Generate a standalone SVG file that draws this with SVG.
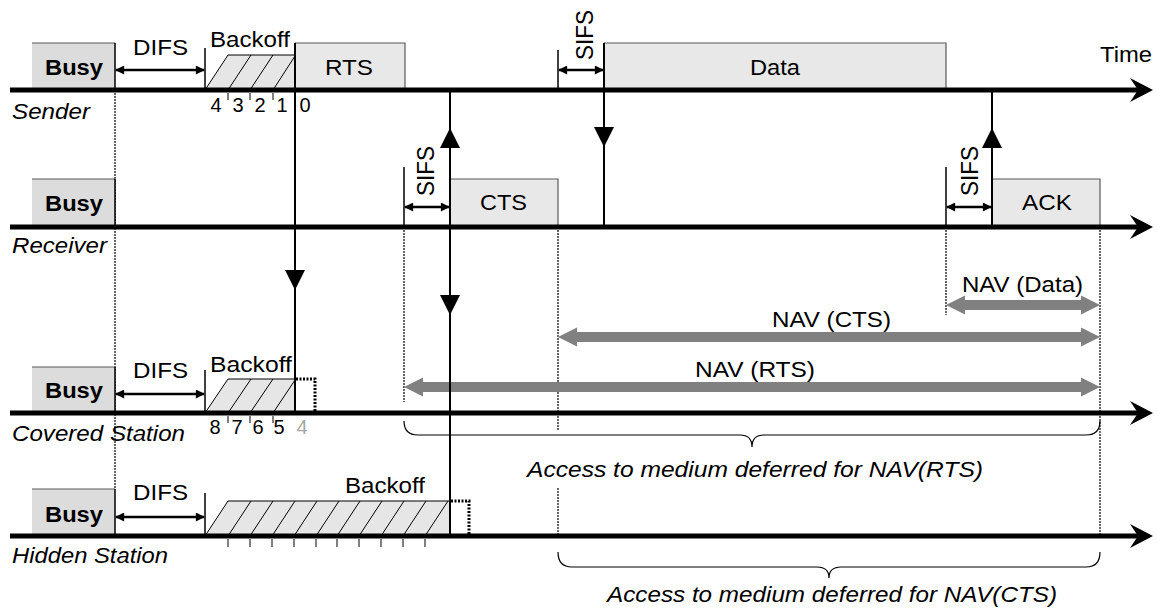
<svg xmlns="http://www.w3.org/2000/svg" width="1157" height="609" viewBox="0 0 1157 609">
<style>
text{font-family:"Liberation Sans",Arial,sans-serif;font-size:22px;fill:#000}
.b{font-weight:bold}
.i{font-style:italic}
.num{font-size:20px;text-anchor:middle}
.sifs{font-size:24px;text-anchor:middle}
.tl{stroke:#000;stroke-width:5;fill:none}
.busy{fill:#dcdcdc;stroke:none}
.box{fill:#e8e8e8;stroke:none}
.edge{stroke:#595959;stroke-width:1.2;fill:none}
.blk{stroke:#000;stroke-width:1.5;fill:none}
.sig{stroke:#000;stroke-width:2;fill:none}
.dot{stroke:#000;stroke-width:1.2;stroke-dasharray:2 1;fill:none}
.tdot{stroke:#000;stroke-width:3;stroke-dasharray:2 1.5;fill:none}
.dbl{stroke:#000;stroke-width:2.5;fill:none;marker-start:url(#ah);marker-end:url(#ah)}
.bo{fill:#e6e6e6;stroke:#000;stroke-width:1}
.hatch{stroke:#000;stroke-width:1;fill:none}
.nav{fill:#808080}
.brace{stroke:#000;stroke-width:1.2;fill:none}
</style>
<defs>
<marker id="ah" viewBox="0 0 10 10" refX="9" refY="5" markerWidth="10" markerHeight="9" markerUnits="userSpaceOnUse" orient="auto-start-reverse"><path d="M0,0 L10,5 L0,10 Z" fill="#000"/></marker>
<path id="tdown" d="M-10,0 L10,0 L0,20 Z" fill="#000"/>
<path id="tup" d="M-10,0 L10,0 L0,-20 Z" fill="#000"/>
<path id="thead" d="M0,0 L-23,-12 L-15,0 L-23,12 Z" fill="#000"/>
</defs>

<!-- dotted guide lines -->
<g id="guides">
<line class="dot" x1="115" y1="90" x2="115" y2="489"/>
<line class="dot" x1="404" y1="227" x2="404" y2="402"/>
<line class="dot" x1="558" y1="227" x2="558" y2="430"/>
<line class="dot" x1="558" y1="488" x2="558" y2="536"/>
<line class="dot" x1="946" y1="227" x2="946" y2="315"/>
<line class="dot" x1="1100" y1="227" x2="1100" y2="536"/>
</g>

<!-- Sender -->
<g id="sender">
<rect class="busy" x="32" y="43" width="83" height="47"/>
<line class="edge" x1="32" y1="43" x2="115" y2="43"/>
<line class="blk" x1="115" y1="43" x2="115" y2="90"/>
<text class="b" x="45" y="75" textLength="58" lengthAdjust="spacingAndGlyphs">Busy</text>
<text x="133" y="55" textLength="55" lengthAdjust="spacingAndGlyphs">DIFS</text>
<line class="blk" x1="205" y1="48" x2="205" y2="90"/>
<polygon class="bo" points="205,90 228,55 295,55 295,90"/>
<path class="hatch" d="M228,90 L251,55 M250,90 L273,55 M273,90 L295,56"/>
<path class="hatch" d="M228,93 V100 M250,93 V100 M273,93 V100"/>
<text x="210" y="47" textLength="80" lengthAdjust="spacingAndGlyphs">Backoff</text>
<text class="num" x="216" y="112">4</text>
<text class="num" x="238" y="112">3</text>
<text class="num" x="260" y="112">2</text>
<text class="num" x="282" y="112">1</text>
<text class="num" x="305" y="112">0</text>
<rect class="box" x="295" y="43" width="110" height="47"/>
<path class="edge" d="M295,43 H405 V90"/>
<text x="325" y="75" textLength="48" lengthAdjust="spacingAndGlyphs">RTS</text>
<line class="blk" x1="558" y1="50" x2="558" y2="90"/>
<text class="sifs" transform="translate(593,35) rotate(-90)" textLength="50" lengthAdjust="spacingAndGlyphs">SIFS</text>
<rect class="box" x="604" y="43" width="342" height="47"/>
<path class="edge" d="M604,43 H946 V90"/>
<text x="750" y="75" textLength="50" lengthAdjust="spacingAndGlyphs">Data</text>
<text x="1100" y="62" textLength="52" lengthAdjust="spacingAndGlyphs">Time</text>
<text class="i" x="12" y="119" textLength="78" lengthAdjust="spacingAndGlyphs">Sender</text>
</g>

<!-- Receiver -->
<g id="receiver">
<rect class="busy" x="32" y="179" width="83" height="48"/>
<line class="edge" x1="32" y1="179" x2="115" y2="179"/>
<line class="blk" x1="115" y1="179" x2="115" y2="227"/>
<text class="b" x="45" y="211" textLength="58" lengthAdjust="spacingAndGlyphs">Busy</text>
<line class="blk" x1="404" y1="167" x2="404" y2="227"/>
<text class="sifs" transform="translate(434,171) rotate(-90)" textLength="50" lengthAdjust="spacingAndGlyphs">SIFS</text>
<rect class="box" x="450" y="179" width="108" height="48"/>
<path class="edge" d="M450,179 H558 V227"/>
<text x="480" y="210" textLength="47" lengthAdjust="spacingAndGlyphs">CTS</text>
<line class="blk" x1="946" y1="167" x2="946" y2="227"/>
<text class="sifs" transform="translate(978,171) rotate(-90)" textLength="50" lengthAdjust="spacingAndGlyphs">SIFS</text>
<rect class="box" x="992" y="179" width="108" height="48"/>
<path class="edge" d="M992,179 H1100 V227"/>
<text x="1022" y="210" textLength="50" lengthAdjust="spacingAndGlyphs">ACK</text>
<text class="i" x="12" y="253" textLength="95" lengthAdjust="spacingAndGlyphs">Receiver</text>
</g>

<!-- NAV -->
<g id="nav">
<path class="nav" d="M946,305 L965,295.5 L965,300 L1081,300 L1081,295.5 L1100,305 L1081,314.5 L1081,310 L965,310 L965,314.5 Z"/>
<text x="962" y="292" textLength="121" lengthAdjust="spacingAndGlyphs">NAV (Data)</text>
<path class="nav" d="M558,337 L577,327.5 L577,332 L1081,332 L1081,327.5 L1100,337 L1081,346.5 L1081,342 L577,342 L577,346.5 Z"/>
<text x="772" y="327" textLength="119" lengthAdjust="spacingAndGlyphs">NAV (CTS)</text>
<path class="nav" d="M404,387 L423,377.5 L423,382 L1081,382 L1081,377.5 L1100,387 L1081,396.5 L1081,392 L423,392 L423,396.5 Z"/>
<text x="695" y="377" textLength="120" lengthAdjust="spacingAndGlyphs">NAV (RTS)</text>
</g>

<!-- Covered Station -->
<g id="covered">
<rect class="busy" x="32" y="367" width="83" height="46"/>
<line class="edge" x1="32" y1="367" x2="115" y2="367"/>
<line class="blk" x1="115" y1="367" x2="115" y2="413"/>
<text class="b" x="45" y="398" textLength="58" lengthAdjust="spacingAndGlyphs">Busy</text>
<text x="133" y="378" textLength="55" lengthAdjust="spacingAndGlyphs">DIFS</text>
<line class="blk" x1="205" y1="370" x2="205" y2="413"/>
<polygon class="bo" points="205,413 228,379 295,379 295,413"/>
<path class="hatch" d="M228,413 L251,379 M250,413 L273,379 M273,413 L295,380"/>
<path class="hatch" d="M228,416 V423 M250,416 V423 M273,416 V423"/>
<path class="tdot" d="M296,379 H315 V413"/>
<text x="210" y="372" textLength="82" lengthAdjust="spacingAndGlyphs">Backoff</text>
<text class="num" x="215" y="434">8</text>
<text class="num" x="237" y="434">7</text>
<text class="num" x="258" y="434">6</text>
<text class="num" x="279" y="434">5</text>
<text class="num" x="302" y="434" style="fill:#a6a6a6">4</text>
<text class="i" x="12" y="441" textLength="173" lengthAdjust="spacingAndGlyphs">Covered Station</text>
<path class="brace" d="M404,421 Q404,435 418,435 L740,435 Q752,435 752,447 Q752,435 764,435 L1086,435 Q1100,435 1100,421"/>
<text class="i" x="527" y="477" textLength="456" lengthAdjust="spacingAndGlyphs">Access to medium deferred for NAV(RTS)</text>
</g>

<!-- Hidden Station -->
<g id="hidden">
<rect class="busy" x="32" y="489" width="83" height="47"/>
<line class="edge" x1="32" y1="489" x2="115" y2="489"/>
<line class="blk" x1="115" y1="489" x2="115" y2="536"/>
<text class="b" x="45" y="522" textLength="58" lengthAdjust="spacingAndGlyphs">Busy</text>
<text x="133" y="500" textLength="55" lengthAdjust="spacingAndGlyphs">DIFS</text>
<line class="blk" x1="205" y1="493" x2="205" y2="536"/>
<polygon class="bo" points="205,536 228,501 450,501 450,536"/>
<path class="hatch" d="M228,536 L251,501 M250,536 L273,501 M272,536 L295,501 M294,536 L317,501 M316,536 L339,501 M337,536 L360,501 M359,536 L382,501 M381,536 L404,501 M403,536 L426,501 M425,536 L448,501"/>
<path class="hatch" d="M228,539 V547 M250,539 V547 M272,539 V547 M294,539 V547 M316,539 V547 M337,539 V547 M359,539 V547 M381,539 V547 M403,539 V547 M425,539 V547"/>
<path class="tdot" d="M451,501 H469 V536"/>
<text x="345" y="493" textLength="80" lengthAdjust="spacingAndGlyphs">Backoff</text>
<text class="i" x="12" y="563" textLength="156" lengthAdjust="spacingAndGlyphs">Hidden Station</text>
<path class="brace" d="M558,552 Q558,567 572,567 L817,567 Q829,567 829,578 Q829,567 841,567 L1086,567 Q1100,567 1100,552"/>
<text class="i" x="607" y="602" textLength="450" lengthAdjust="spacingAndGlyphs">Access to medium deferred for NAV(CTS)</text>
</g>

<!-- connectors -->
<g id="connectors">
<line class="tl" x1="10" y1="90" x2="1140" y2="90"/>
<use href="#thead" x="1153" y="90"/>
<line class="tl" x1="10" y1="227" x2="1140" y2="227"/>
<use href="#thead" x="1153" y="227"/>
<line class="tl" x1="10" y1="413" x2="1140" y2="413"/>
<use href="#thead" x="1153" y="413"/>
<line class="tl" x1="10" y1="536" x2="1140" y2="536"/>
<use href="#thead" x="1153" y="536"/>

<line class="dbl" x1="116" y1="70" x2="204" y2="70"/>
<line class="dbl" x1="116" y1="394" x2="204" y2="394"/>
<line class="dbl" x1="116" y1="517" x2="204" y2="517"/>
<line class="dbl" x1="559" y1="70" x2="603" y2="70"/>
<line class="dbl" x1="405" y1="207" x2="449" y2="207"/>
<line class="dbl" x1="947" y1="207" x2="991" y2="207"/>

<line class="sig" x1="295" y1="43" x2="295" y2="413"/>
<use href="#tdown" x="295" y="270"/>
<line class="sig" x1="450" y1="90" x2="450" y2="536"/>
<use href="#tup" x="450" y="148"/>
<use href="#tdown" x="450" y="295"/>
<line class="sig" x1="604" y1="43" x2="604" y2="227"/>
<use href="#tdown" x="604" y="127"/>
<line class="sig" x1="992" y1="90" x2="992" y2="227"/>
<use href="#tup" x="992" y="148"/>
</g>
</svg>
